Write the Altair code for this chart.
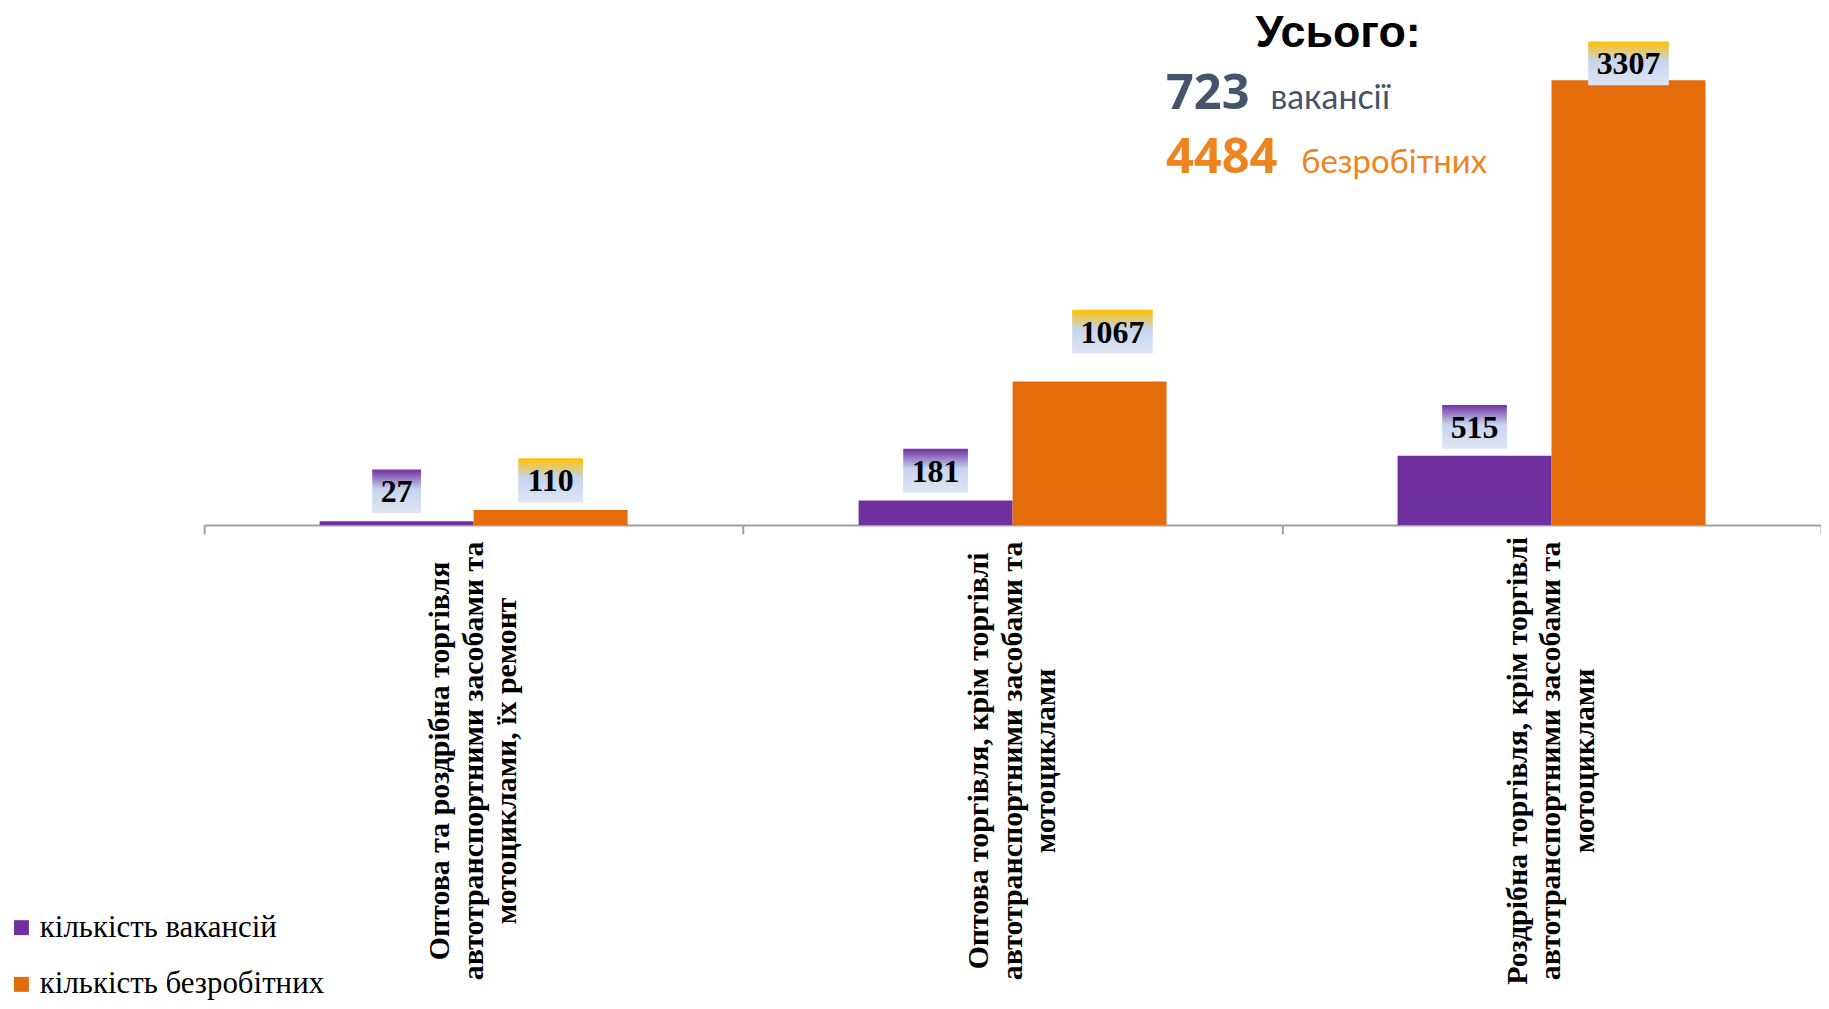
import altair as alt
import pandas as pd

# ---------------- data ----------------
categories = [
    "Оптова та роздрібна торгівля\nавтотранспортними засобами та\nмотоциклами, їх ремонт",
    "Оптова торгівля, крім торгівлі\nавтотранспортними засобами та\nмотоциклами",
    "Роздрібна торгівля, крім торгівлі\nавтотранспортними засобами та\nмотоциклами",
]
series = ["кількість вакансій", "кількість безробітних"]
vacancies = [27, 181, 515]
unemployed = [110, 1067, 3307]
total_title = "Усього:"
total_units = ["вакансії", "безробітних"]

# ---------------- styles ----------------
bar_colors = ["#7030A0", "#E46C0A"]
label_tops = ["#7030A0", "#FFC000"]
# gap (px) between bar top and its label box, per category & series
label_gaps = [[8, 8], [8, 28], [7, -5]]
# horizontal shift (px) of a label box from its bar centre
label_dx = [[0, 0], [0, 23], [0, 0]]

rows = []
for ci, cat in enumerate(categories):
    for si, (ser, vals) in enumerate(zip(series, [vacancies, unemployed])):
        rows.append({"category": cat, "series": ser, "value": vals[ci],
                     "label": str(vals[ci]), "ci": ci, "si": si})
df = pd.DataFrame(rows)

x_enc = alt.X("category:N", sort=categories,
              scale=alt.Scale(paddingInner=0, paddingOuter=0),
              axis=alt.Axis(labels=False, title=None, domainColor="#A0A0A0",
                            domainWidth=2, tickColor="#A0A0A0", tickWidth=2,
                            tickSize=9, tickBand="extent", grid=False))
xo_enc = alt.XOffset("series:N", sort=series,
                     scale=alt.Scale(paddingInner=0, paddingOuter=0.75))
y_enc = alt.Y("value:Q", scale=alt.Scale(domain=[0, 3740]), axis=None)

bars = alt.Chart(df).mark_bar().encode(
    x=x_enc, xOffset=xo_enc, y=y_enc,
    color=alt.Color("series:N", sort=series,
                    scale=alt.Scale(domain=series, range=bar_colors),
                    legend=alt.Legend(orient="none", legendX=-199, legendY=894,
                                      direction="vertical", title=None,
                                      symbolType="square", symbolSize=225,
                                      symbolStrokeWidth=0,
                                      labelFont="Liberation Serif",
                                      labelFontSize=31, labelColor="black",
                                      rowPadding=25, labelOffset=3, padding=0,
                                      labelLimit=800)),
)

layers = [bars]
BOX_H = 44
for r in rows:
    ci, si = r["ci"], r["si"]
    gap = label_gaps[ci][si]
    dx = label_dx[ci][si]
    half = (17 + 16 * len(r["label"])) / 2
    # box outline in pixels relative to the bar top (symbol size 4 => scale 1)
    box_path = (f"M{dx - half},{-(gap + BOX_H)}H{dx + half}"
                f"V{-gap}H{dx - half}Z")
    grad = {
        "gradient": "linear", "x1": 0, "y1": 0, "x2": 0, "y2": 1,
        "stops": [
            {"offset": 0, "color": label_tops[si]},
            {"offset": 0.45, "color": "#C6D4EE"},
            {"offset": 1, "color": "#DEE6F3"},
        ],
    }
    base = alt.Chart(df).transform_filter(
        (alt.datum.ci == ci) & (alt.datum.si == si))
    box = base.mark_point(shape=box_path, size=4, filled=True, fill=grad,
                          strokeWidth=0, opacity=1).encode(
        x=x_enc, xOffset=xo_enc, y=y_enc)
    txt = base.mark_text(font="Liberation Serif", fontWeight="bold", fontSize=32,
                         color="black", align="center", baseline="middle",
                         dx=dx, dy=-(gap + BOX_H / 2) + 1).encode(
        x=x_enc, xOffset=xo_enc, y=y_enc, text="label:N")
    layers += [box, txt]

cat_df = pd.DataFrame({"category": categories})
cat_labels = alt.Chart(cat_df).mark_text(
    angle=270, align="center", baseline="middle", lineBreak="\n",
    font="Liberation Serif", fontWeight="bold", fontSize=30, lineHeight=34,
    dy=-34, color="black").encode(x=x_enc, y=alt.value(742), text="category:N")
layers.append(cat_labels)

# ---------------- totals ----------------
totals = pd.DataFrame({
    "title": [total_title],
    "vac": [str(sum(vacancies))],
    "unemp": [str(sum(unemployed))],
    "u1": [total_units[0]],
    "u2": [total_units[1]],
})
tb = alt.Chart(totals)
layers += [
    tb.mark_text(align="left", baseline="alphabetic", font="Liberation Sans",
                 fontWeight="bold", fontSize=45, color="black").encode(
        x=alt.value(1056), y=alt.value(25), text="title:N"),
    tb.mark_text(align="left", baseline="alphabetic", font="Open Sans",
                 fontWeight="bold", fontSize=49, color="#44546A").encode(
        x=alt.value(966), y=alt.value(87), text="vac:N"),
    tb.mark_text(align="left", baseline="alphabetic", font="Lato",
                 fontSize=34, color="#44546A").encode(
        x=alt.value(1071), y=alt.value(87), text="u1:N"),
    tb.mark_text(align="left", baseline="alphabetic", font="Open Sans",
                 fontWeight="bold", fontSize=49, color="#EE8420").encode(
        x=alt.value(966), y=alt.value(152), text="unemp:N"),
    tb.mark_text(align="left", baseline="alphabetic", font="Lato",
                 fontSize=33, color="#EE8420").encode(
        x=alt.value(1102), y=alt.value(152), text="u2:N"),
]

chart = alt.layer(*layers).properties(
    width=1624, height=505,
    background="white",
    autosize=alt.AutoSizeParams(type="none"),
    padding={"left": 197, "top": 12, "right": 0, "bottom": 476},
).configure_view(stroke=None)

chart.save("out.html", embed_options={"renderer": "svg", "actions": False})
